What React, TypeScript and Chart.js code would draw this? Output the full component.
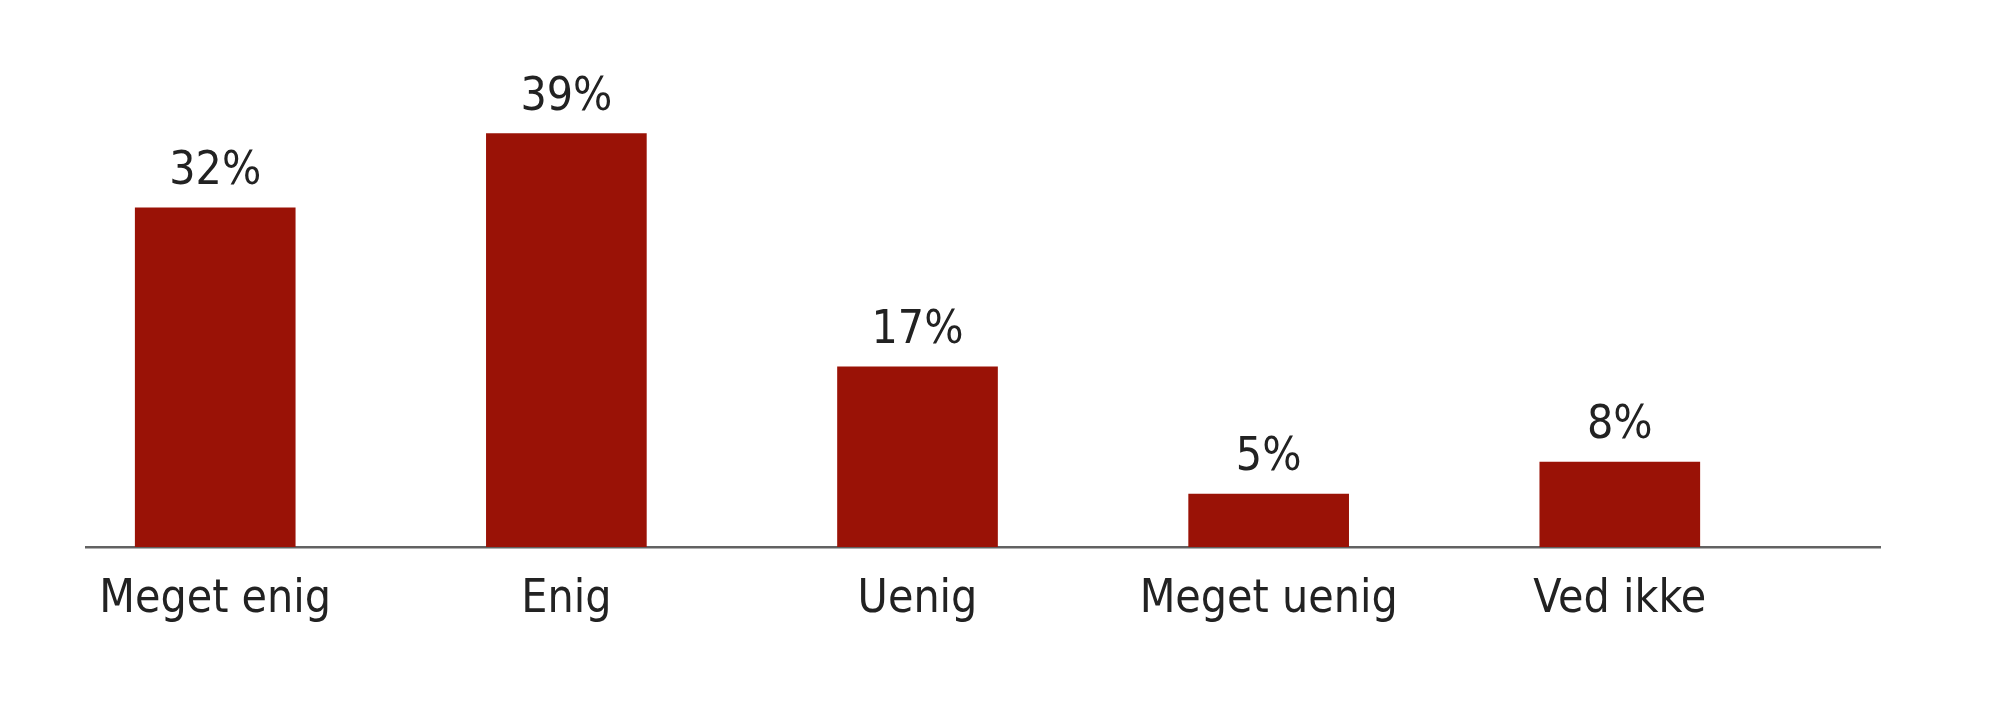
import { useEffect, useRef } from "react";
import { Chart, registerables, type ChartConfiguration } from "chart.js";

Chart.register(...registerables);

const categories = ["Meget enig", "Enig", "Uenig", "Meget uenig", "Ved ikke"];
const shares = [32, 39, 17, 5, 8];

const BAR_COLOR = "#9a1206";
const TEXT_COLOR = "#222222";
const FONT_FAMILY = "'DejaVu Sans Condensed', 'DejaVu Sans', sans-serif";

const valueLabels = {
  id: "valueLabels",
  afterDatasetsDraw(chart: Chart) {
    const { ctx } = chart;
    const meta = chart.getDatasetMeta(0);
    ctx.save();
    ctx.fillStyle = TEXT_COLOR;
    ctx.font = `46px ${FONT_FAMILY}`;
    ctx.textAlign = "center";
    ctx.textBaseline = "alphabetic";
    meta.data.forEach((bar, i) => {
      ctx.fillText(`${shares[i]}%`, bar.x, bar.y - 24);
    });
    ctx.restore();
  },
};

export default function App() {
  const canvasRef = useRef<HTMLCanvasElement>(null);

  useEffect(() => {
    document.body.style.margin = "0";
    if (!canvasRef.current) return;
    const cfg: ChartConfiguration<"bar", { x: number; y: number }[], string> = {
      type: "bar",
      data: {
        datasets: [
          {
            data: shares.map((v, i) => ({ x: i, y: v })),
            backgroundColor: BAR_COLOR,
            barThickness: 160,
          },
        ],
      },
      options: {
        animation: false,
        responsive: true,
        maintainAspectRatio: false,
        layout: { padding: { left: 86, right: 120, top: 17, bottom: 0 } },
        plugins: {
          legend: { display: false },
          tooltip: { enabled: false },
        },
        scales: {
          x: {
            type: "linear",
            offset: false,
            min: -0.368,
            max: 4.741,
            grid: { display: false, drawTicks: false },
            border: { display: true, color: "#626262", width: 2.5 },
            afterFit(scale) {
              scale.height = 163;
            },
            afterBuildTicks(scale) {
              scale.ticks = categories.map((_, i) => ({ value: i }));
            },
            ticks: {
              autoSkip: false,
              maxRotation: 0,
              padding: 25,
              color: TEXT_COLOR,
              font: { family: FONT_FAMILY, size: 46 },
              callback: (v) => categories[v as number] ?? "",
            },
          },
          y: {
            display: false,
            min: 0,
            max: 50,
          },
        },
      },
      plugins: [valueLabels],
    };
    const chart = new Chart(canvasRef.current, cfg);
    return () => {
      chart.destroy();
    };
  }, []);

  return (
    <div style={{ position: "relative", width: 2000, height: 710, background: "#fff" }}>
      <canvas ref={canvasRef} />
    </div>
  );
}
